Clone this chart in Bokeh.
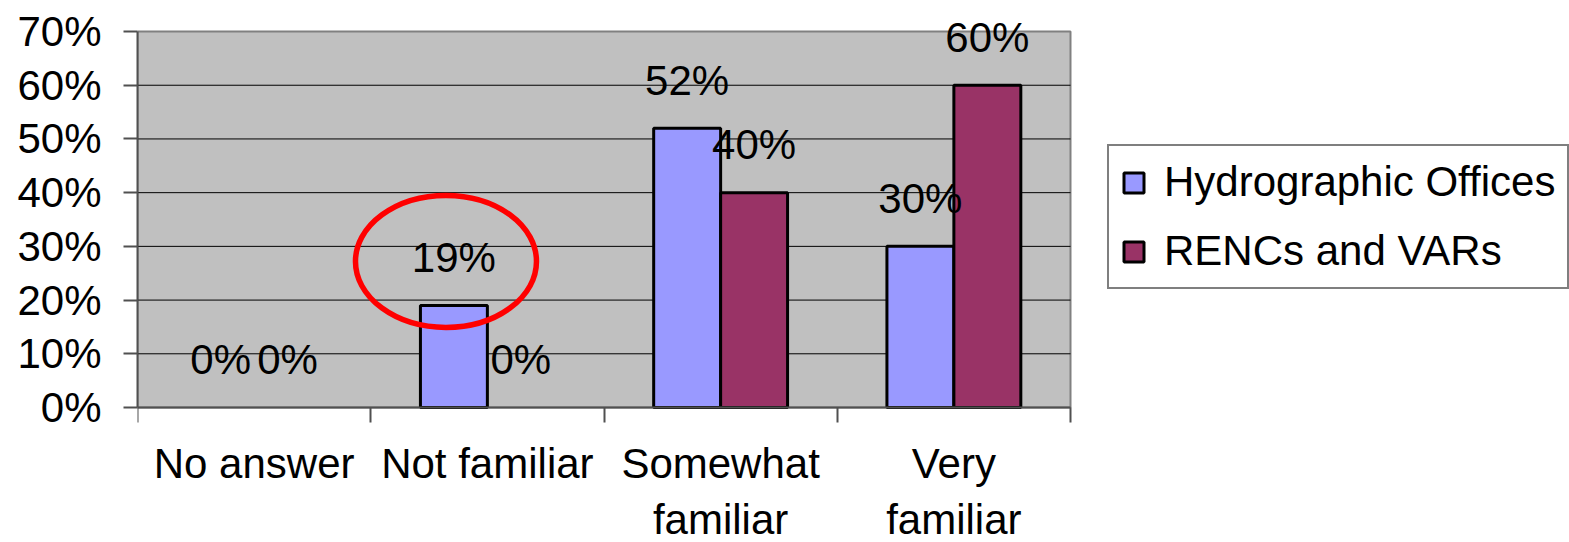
from bokeh.plotting import figure
from bokeh.models import (Range1d, FixedTicker, NumeralTickFormatter, ColumnDataSource,
                          LabelSet, Legend, LegendItem)
from bokeh.core.properties import value
from bokeh.embed import file_html
from bokeh.resources import INLINE

# ---- data ----
categories = ["No answer", "Not familiar", "Somewhat\nfamiliar", "Very\nfamiliar"]
hydrographic_offices = [0.00, 0.19, 0.52, 0.30]
rencs_and_vars = [0.00, 0.00, 0.40, 0.60]
series_names = ["Hydrographic Offices", "RENCs and VARs"]
y_ticks = [0.0, 0.1, 0.2, 0.3, 0.4, 0.5, 0.6, 0.7]
highlight_category = "Not familiar"

# ---- layout / style constants ----
FONT = "Liberation Sans"
FS = "42px"
BLUE = "#9999FF"
PLUM = "#993366"
BAR_W = 0.287
HALF = BAR_W / 2

FIG_W, FIG_H = 1569, 542
LEFT = 137            # left border (axis panel)
TOP = 4               # top border
CAT_PX = 233.25       # pixel width of one category
PX_PER_UNIT = 537.1   # pixels per 100% on y
AXIS_Y_PX = 407       # y pixel (from figure top) of the 0% line

n = len(categories)
y_top = y_ticks[-1]
frame_w = FIG_W - LEFT
x_end = frame_w / CAT_PX
y_end = y_top + (AXIS_Y_PX - TOP - y_top * PX_PER_UNIT) / PX_PER_UNIT
y_start = -(FIG_H - AXIS_Y_PX) / PX_PER_UNIT

centers = [i + 0.5 for i in range(n)]
x_h = [c - HALF for c in centers]
x_r = [c + HALF for c in centers]


def pct(v):
    return f"{round(v * 100)}%"


src_h = ColumnDataSource(dict(x=x_h, top=hydrographic_offices,
                              label=[pct(v) for v in hydrographic_offices],
                              lc=["black" if v > 0 else None for v in hydrographic_offices]))
src_r = ColumnDataSource(dict(x=x_r, top=rencs_and_vars,
                              label=[pct(v) for v in rencs_and_vars],
                              lc=["black" if v > 0 else None for v in rencs_and_vars]))

p = figure(width=FIG_W, height=FIG_H,
           x_range=Range1d(0, x_end), y_range=Range1d(y_start, y_end),
           output_backend="svg", toolbar_location=None,
           min_border_left=LEFT, min_border_right=0,
           min_border_top=TOP, min_border_bottom=0)
p.background_fill_color = "white"
p.border_fill_color = "white"
p.outline_line_color = None
p.xgrid.grid_line_color = None
p.ygrid.grid_line_color = None

# plot area (grey box with grey top/right border)
p.quad(left=[0], right=[n], bottom=[0], top=[y_top],
       fill_color="#C0C0C0", line_color="#808080", line_width=2)

# horizontal grid lines
grid_y = y_ticks[1:-1]
p.segment(x0=[0] * len(grid_y), x1=[n] * len(grid_y), y0=grid_y, y1=grid_y,
          line_color="black", line_width=1)

# y axis
p.yaxis.ticker = FixedTicker(ticks=y_ticks)
p.yaxis.bounds = (0, y_top)
p.yaxis.formatter = NumeralTickFormatter(format="0%")
p.yaxis.major_label_text_font = FONT
p.yaxis.major_label_text_font_size = FS
p.yaxis.major_label_text_color = "black"
p.yaxis.axis_line_color = "#505050"
p.yaxis.axis_line_width = 2
p.yaxis.major_tick_out = 14
p.yaxis.major_tick_in = 0
p.yaxis.major_tick_line_color = "#505050"
p.yaxis.major_tick_line_width = 2
p.yaxis.minor_tick_line_color = None
p.yaxis.major_label_standoff = 22

# x axis (drawn at 0%)
p.xaxis.fixed_location = 0
p.xaxis.bounds = (0, n)
p.xaxis.ticker = FixedTicker(ticks=centers, minor_ticks=[float(i) for i in range(n + 1)])
p.xaxis.major_label_overrides = {c: lab for c, lab in zip(centers, categories)}
p.xaxis.major_label_text_font = FONT
p.xaxis.major_label_text_font_size = FS
p.xaxis.major_label_text_color = "black"
p.xaxis.major_label_text_line_height = 1.2
p.xaxis.major_tick_line_color = None
p.xaxis.major_tick_out = 0
p.xaxis.major_tick_in = 0
p.xaxis.minor_tick_out = 15
p.xaxis.minor_tick_in = 0
p.xaxis.minor_tick_line_color = "#505050"
p.xaxis.minor_tick_line_width = 2
p.xaxis.axis_line_color = "#505050"
p.xaxis.axis_line_width = 2
p.xaxis.major_label_standoff = 17

# bars
r_h = p.vbar(x="x", top="top", bottom=0, width=BAR_W, source=src_h,
             fill_color=BLUE, line_color="lc", line_width=3)
r_r = p.vbar(x="x", top="top", bottom=0, width=BAR_W, source=src_r,
             fill_color=PLUM, line_color="lc", line_width=3)

# value labels
for src in (src_h, src_r):
    p.add_layout(LabelSet(x="x", y="top", text="label", source=src,
                          y_offset=48, text_align="center", text_baseline="middle",
                          text_font=value(FONT), text_font_size=value(FS),
                          text_color="black"))

# highlight ellipse around the "Not familiar" label
i = categories.index(highlight_category)
p.ellipse(x=[x_h[i] - 0.034], y=[hydrographic_offices[i] + 0.082],
          width=[181], height=[132], width_units="screen", height_units="screen",
          fill_color=None, line_color="#FF0000", line_width=5.5)

# legend, right of the plot area
legend = Legend(items=[LegendItem(label=series_names[0], renderers=[r_h], index=2),
                       LegendItem(label=series_names[1], renderers=[r_r], index=2)],
                location=(970, 253), orientation="vertical",
                label_text_font=FONT, label_text_font_size=FS,
                label_text_color="black",
                glyph_width=25, glyph_height=25, label_standoff=18,
                padding=12, spacing=21, margin=0,
                border_line_color="black", border_line_width=2,
                background_fill_color="white", background_fill_alpha=1.0)
p.add_layout(legend)

open("out.html", "w").write(file_html(p, INLINE))
